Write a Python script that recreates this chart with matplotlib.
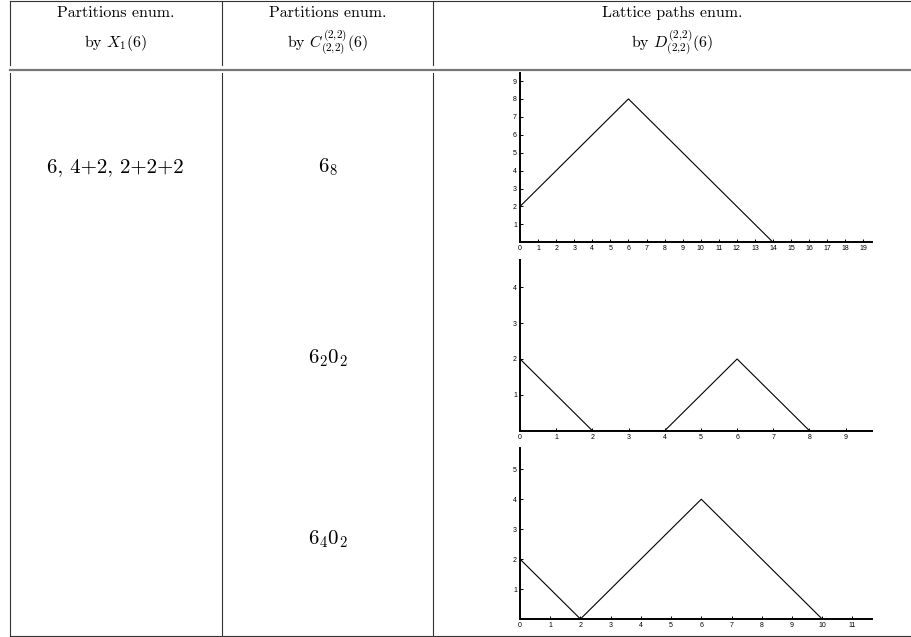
import matplotlib
matplotlib.use("Agg")
import matplotlib.pyplot as plt

plt.rcParams["mathtext.fontset"] = "cm"
plt.rcParams["axes.unicode_minus"] = False

W, H = 911, 637

# table text
header_top = ["Partitions enum.", "Partitions enum.", "Lattice paths enum."]
header_bot = [r"by $X_1(6)$", r"by $C^{(2{,}2)}_{(2{,}2)}(6)$", r"by $D^{(2{,}2)}_{(2{,}2)}(6)$"]
col1_text = "6, 4+2, 2+2+2"
col2_text = [r"$6_8$", r"$6_2 0_2$", r"$6_4 0_2$"]

# lattice paths (x, y vertices)
path_x = [[0, 6, 14], [0, 2, 4, 6, 8], [0, 2, 6, 10]]
path_y = [[2, 8, 0], [2, 0, 0, 2, 0], [2, 0, 4, 0]]
x_ticks = [range(0, 20), range(0, 10), range(0, 12)]
y_ticks = [range(1, 10), range(1, 5), range(1, 6)]
x_max = [19.46, 9.72, 11.64]
y_max = [9.43, 4.76, 5.7]

# pixel layout
col_x = [9.5, 221.7, 433.3, 911]
row_y = [1.3, 65, 73, 635.7]
text_y = [167, 358, 539]
plot_boxes = [(520, 73.3, 871.7, 242.3), (520, 260, 871.7, 430.7), (520, 448.3, 871.7, 619)]

fig = plt.figure(figsize=(W / 100, H / 100), dpi=100)
bg = fig.add_axes([0, 0, 1, 1])
bg.set_xlim(0, W); bg.set_ylim(H, 0); bg.axis("off")

line_kw = dict(color="#333333", lw=0.8)
bg.plot([col_x[0], W], [row_y[0], row_y[0]], **line_kw)
bg.plot([col_x[0], W], [row_y[3], row_y[3]], **line_kw)
bg.plot([col_x[0], W], [69.5, 69.5], color="#777777", lw=1.6)
for x in col_x[:3]:
    bg.plot([x, x], [row_y[0], row_y[1]], **line_kw)
    bg.plot([x, x], [row_y[2], row_y[3]], **line_kw)

serif = dict(family="cmr10", fontsize=11.5, ha="center", va="center")
body = dict(serif, fontsize=15)
for i in range(3):
    cx = (col_x[i] + col_x[i + 1]) / 2
    bg.text(cx, 13, header_top[i], **serif)
    bg.text(cx, 43, header_bot[i], **serif)

bg.text((col_x[0] + col_x[1]) / 2, text_y[0], col1_text, **body)
for t, y in zip(col2_text, text_y):
    bg.text((col_x[1] + col_x[2]) / 2, y, t, **body)

for k, (l, t, r, b) in enumerate(plot_boxes):
    ax = fig.add_axes([l / W, 1 - b / H, (r - l) / W, (b - t) / H])
    ax.plot(path_x[k], path_y[k], color="black", lw=0.8)
    ax.set_xlim(0, x_max[k]); ax.set_ylim(0, y_max[k])
    ax.set_xticks(list(x_ticks[k])); ax.set_yticks(list(y_ticks[k]))
    for s in ["top", "right"]:
        ax.spines[s].set_visible(False)
    for s in ["left", "bottom"]:
        ax.spines[s].set_linewidth(1.4)
    ax.tick_params(direction="in", length=2.5, width=0.7, pad=2.2,
                   labelsize=5, colors="black")
    for lab in ax.get_xticklabels() + ax.get_yticklabels():
        lab.set_family("Liberation Sans")
    ax.patch.set_alpha(0)

fig.savefig("out.png", dpi=100)
